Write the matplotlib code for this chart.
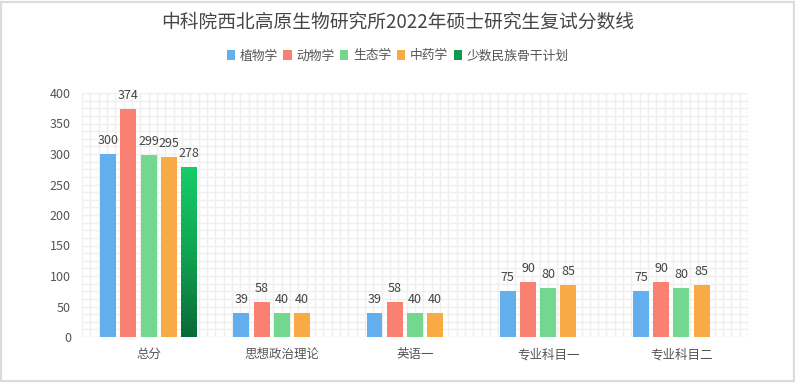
import numpy as np
import matplotlib
matplotlib.use('Agg')
import matplotlib.pyplot as plt
from matplotlib.patches import Rectangle, Patch
from matplotlib.colors import LinearSegmentedColormap

plt.rcParams['font.family'] = ['Noto Sans CJK SC', 'DejaVu Sans']

# data
categories = ['总分', '思想政治理论', '英语一', '专业科目一', '专业科目二']
series_names = ['植物学', '动物学', '生态学', '中药学', '少数民族骨干计划']
series_values = [
    [300, 39, 39, 75, 75],
    [374, 58, 58, 90, 90],
    [299, 40, 40, 80, 80],
    [295, 40, 40, 85, 85],
    [278, None, None, None, None],
]
colors = ['#63AFEE', '#FA8072', '#74D790', '#F8AA44', '#0E9A4C']
title = '中科院西北高原生物研究所2022年硕士研究生复试分数线'

W, H = 795, 391
fig = plt.figure(figsize=(W / 100, H / 100), dpi=100)
fig.patch.set_facecolor('white')

# outer border
fig.add_artist(Rectangle((1 / W, (H - 381) / H), 793 / W, 379 / H,
                         transform=fig.transFigure, fill=False,
                         edgecolor='#dcdcdc', linewidth=1.6))

ax = fig.add_axes([82 / W, (H - 337) / H, 666 / W, 244 / H])
ax.set_xlim(-0.5, len(categories) - 0.5)
ax.set_ylim(0, 400)

# background grid
for y in np.arange(0, 400.1, 12.5):
    ax.axhline(y, color='#efefef', linewidth=1.0, zorder=0)
for x in np.arange(-0.5, len(categories) - 0.5 + 0.001, 1 / 16):
    ax.axvline(x, color='#efefef', linewidth=1.0, zorder=0)

bar_w = 0.12
pitch = 0.152
x = np.arange(len(categories))
green_cmap = LinearSegmentedColormap.from_list('g', ['#0A6A37', '#10A552', '#16CD67'])

for i, (name, vals) in enumerate(zip(series_names, series_values)):
    xs = [xi + (i - 2) * pitch for xi, v in zip(x, vals) if v is not None]
    vs = [v for v in vals if v is not None]
    bars = ax.bar(xs, vs, width=bar_w, color=colors[i], zorder=2)
    if i == 4:
        for b in bars:
            b.set_facecolor('none')
            grad = np.linspace(0, 1, 256).reshape(-1, 1)
            im = ax.imshow(grad, cmap=green_cmap, origin='lower', aspect='auto',
                           extent=[b.get_x(), b.get_x() + b.get_width(), 0, b.get_height()],
                           zorder=2)
            im.set_clip_path(b)
        ax.set_xlim(-0.5, len(categories) - 0.5)
        ax.set_ylim(0, 400)
    for xv, v in zip(xs, vs):
        ax.annotate(str(v), (xv, v), xytext=(0, 5), textcoords='offset points',
                    ha='center', va='bottom', fontsize=9, color='#444444')

for s in ax.spines.values():
    s.set_visible(False)
ax.tick_params(length=0)
ax.set_yticks(range(0, 401, 50))
ax.tick_params(axis='y', labelsize=9, labelcolor='#555555', pad=8)
ax.set_xticks(x)
ax.set_xticklabels(categories, fontsize=9, color='#555555')
ax.tick_params(axis='x', pad=8)

fig.text(0.5, 1 - 22 / H, title, ha='center', va='center', fontsize=13.5, color='#464646')

handles = [Patch(facecolor=c, edgecolor='none') for c in colors]
fig.legend(handles, series_names, loc='center', bbox_to_anchor=(0.5, 1 - 56 / H),
           ncol=5, frameon=False, fontsize=9.2, handlelength=0.65, handleheight=0.75,
           handletextpad=0.35, columnspacing=0.45, labelcolor='#555555')

fig.savefig('out.png', dpi=100)
